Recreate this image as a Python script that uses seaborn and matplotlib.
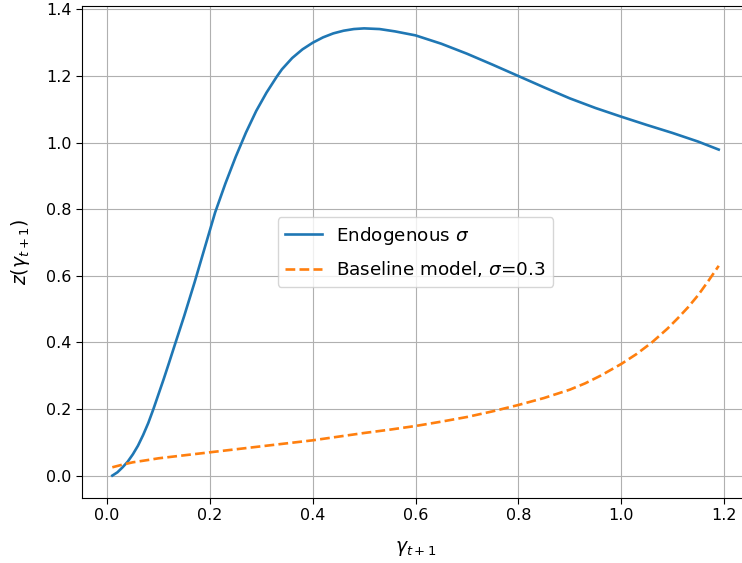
import pandas as pd
import matplotlib
import matplotlib.pyplot as plt
import seaborn as sns

matplotlib.use('Agg')

# values
endo_x = [0.01, 0.02, 0.03, 0.04, 0.05, 0.06, 0.07, 0.08, 0.09, 0.10, 0.11, 0.12,
          0.13, 0.15, 0.17, 0.19, 0.21, 0.23, 0.25, 0.27, 0.29, 0.31, 0.33, 0.34,
          0.36, 0.38, 0.40, 0.42, 0.44, 0.46, 0.48, 0.50, 0.53, 0.56, 0.60, 0.65,
          0.70, 0.75, 0.80, 0.85, 0.90, 0.95, 1.00, 1.05, 1.10, 1.15, 1.19]
endo_z = [0.0, 0.010, 0.025, 0.042, 0.064, 0.090, 0.122, 0.158, 0.200, 0.245, 0.290, 0.337,
          0.385, 0.480, 0.580, 0.685, 0.790, 0.877, 0.957, 1.030, 1.095, 1.150, 1.198, 1.220,
          1.254, 1.280, 1.300, 1.316, 1.328, 1.336, 1.341, 1.343, 1.341, 1.334, 1.322, 1.297,
          1.267, 1.234, 1.200, 1.166, 1.133, 1.104, 1.078, 1.053, 1.029, 1.003, 0.979]

base_x = [0.01, 0.03, 0.05, 0.08, 0.10, 0.15, 0.20, 0.25, 0.30, 0.35, 0.40, 0.45,
          0.50, 0.55, 0.60, 0.65, 0.70, 0.75, 0.80, 0.85, 0.90, 0.93, 0.96, 1.00,
          1.03, 1.06, 1.09, 1.11, 1.13, 1.15, 1.17, 1.19]
base_z = [0.025, 0.033, 0.040, 0.047, 0.052, 0.061, 0.070, 0.079, 0.088, 0.097, 0.106, 0.117,
          0.128, 0.138, 0.149, 0.162, 0.176, 0.193, 0.212, 0.233, 0.258, 0.277, 0.300, 0.335,
          0.365, 0.400, 0.441, 0.472, 0.505, 0.542, 0.585, 0.630]

endo_df = pd.DataFrame({'gamma': endo_x, 'z': endo_z})
base_df = pd.DataFrame({'gamma': base_x, 'z': base_z})

fig = plt.figure(figsize=(7.42, 5.63), dpi=100)
ax = fig.add_axes([0.1105, 0.1155, 0.899, 0.8738])

sns.lineplot(data=endo_df, x='gamma', y='z', ax=ax, color='#1f77b4', linewidth=1.9,
             label=r'Endogenous $\sigma$')
sns.lineplot(data=base_df, x='gamma', y='z', ax=ax, color='#ff7f0e', linewidth=1.9,
             linestyle='--', label=r'Baseline model, $\sigma$=0.3')

ax.grid(True)
ax.tick_params(labelsize=11.5, length=4)
ax.set_xlabel(r'$\gamma_{t+1}$', fontsize=13.5, labelpad=11)
ax.set_ylabel(r'$z(\gamma_{t+1})$', fontsize=13.5, labelpad=10)
ax.legend(loc='center', fontsize=13.2, handlelength=2.0, labelspacing=0.7)

fig.savefig('out.png', dpi=100)
